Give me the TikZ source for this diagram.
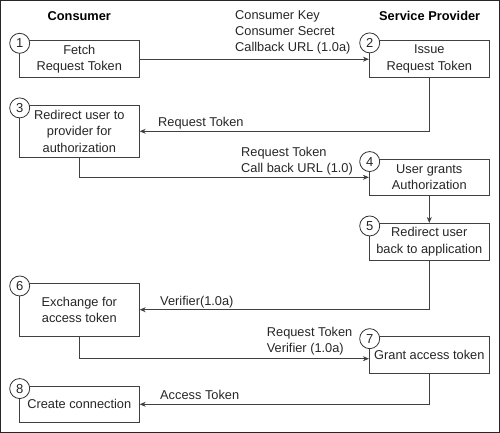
\documentclass[tikz,border=0pt]{standalone}
\usepackage{fontspec}
\setmainfont{Liberation Sans}
\usetikzlibrary{arrows.meta,calc}
\tikzset{
  stepbox/.style={draw=black!75, line width=0.8pt, fill=white, minimum width=120pt, align=center, inner sep=1pt, font=\fontsize{12.8}{16.3}\selectfont, text=black!85},
  numcirc/.style={circle, draw=black!80, line width=0.8pt, fill=white, minimum size=20pt, inner sep=0pt, font=\fontsize{13}{13}\selectfont, text=black!85},
  lbl/.style={anchor=west, align=left, inner sep=0pt, font=\fontsize{12.8}{16.3}\selectfont, text=black!85},
  hdr/.style={inner sep=0pt, font=\bfseries\fontsize{12.8}{15}\selectfont},
  conn/.style={draw=black!75, line width=0.8pt},
  arr/.style={conn, -{Stealth[length=6pt,width=5pt]}}
}
\begin{document}
\begin{tikzpicture}[x=1pt,y=-1pt]
\useasboundingbox (0,0) rectangle (500,433);
\draw[line width=1.3pt, black!85] (0.65,0.65) rectangle (499.35,432.35);

\node[hdr] (hc) at (79.3,16) {Consumer};
\node[hdr] (hs) at (429.7,16) {Service Provider};

\node[stepbox, minimum height=37pt] (b1) at (79.3,59.2) {Fetch\\Request Token};
\node[stepbox, minimum height=37pt] (b2) at (429.3,58.8) {Issue\\Request Token};
\node[stepbox, minimum height=52pt] (b3) at (79.3,131.3) {Redirect user to\\provider for\\authorization};
\node[stepbox, minimum height=36.7pt] (b4) at (429.3,177.3) {User grants\\Authorization};
\node[stepbox, minimum height=36.7pt] (b5) at (429.3,241.7) {Redirect user\\back to application};
\node[stepbox, minimum height=52.7pt] (b6) at (79.3,309.7) {Exchange for\\access token};
\node[stepbox, minimum height=37.3pt] (b7) at (429.3,354.7) {Grant access token};
\node[stepbox, minimum height=36.7pt] (b8) at (79.3,404.3) {Create connection};

\foreach \b/\n in {b1/1,b2/2,b3/3,b4/4,b5/5,b6/6,b7/7,b8/8}{
  \node[numcirc] (c\n) at ([xshift=0.8pt,yshift=-3pt]\b.north west) {\n};
}

\draw[arr] (b1.east) -- (b1.east -| b2.west);
\draw[arr] (b2.south) |- (b3.east);
\draw[arr] (b3.south) |- (b4.west);
\draw[arr] (b4.south) -- (b5.north);
\draw[arr] (b5.south) |- (b6.east);
\draw[arr] (b6.south) |- ([yshift=-4pt]b7.west);
\draw[arr] (b7.south) |- (b8.east);

\node[lbl] (l12) at (235,32.5) {Consumer Key\\Consumer Secret\\Callback URL (1.0a)};
\node[lbl] (l23) at (158,123) {Request Token};
\node[lbl] (l34) at (241,161) {Request Token\\Call back URL (1.0)};
\node[lbl] (l56) at (160,301.7) {Verifier(1.0a)};
\node[lbl] (l67) at (266.7,341) {Request Token\\Verifier (1.0a)};
\node[lbl] (l78) at (160,395) {Access Token};
\end{tikzpicture}
\end{document}
